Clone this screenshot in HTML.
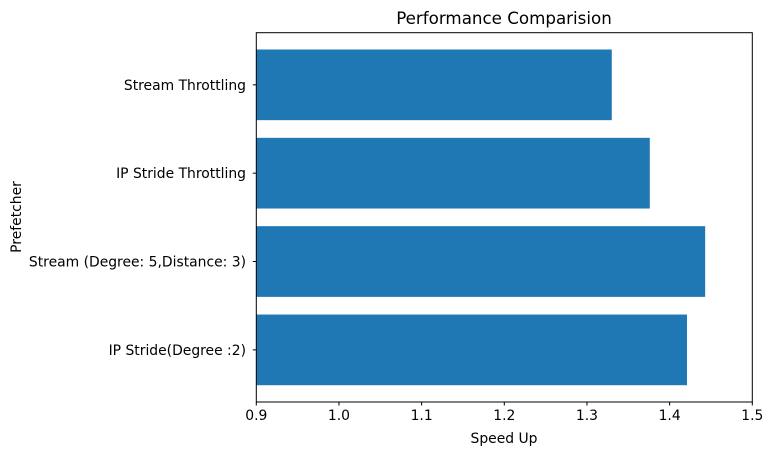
<!DOCTYPE html>
<html><head><meta charset="utf-8"><style>
body{margin:0;background:#fff;}
svg{display:block;font-family:"DejaVu Sans","Liberation Sans",sans-serif;}
</style></head><body>
<svg id="chart" width="773" height="455" viewBox="0 0 773 455">
<text x="504" y="24" text-anchor="middle" font-size="16.7">Performance Comparision</text>
<g id="bars"></g>
<rect x="256.3" y="32.7" width="496" height="369.3" fill="none" stroke="#000" stroke-width="1"/>
<g id="xticks"></g>
<g id="yticks"></g>
<text x="504" y="443" text-anchor="middle" font-size="13.9">Speed Up</text>
<text transform="translate(21,217) rotate(-90)" text-anchor="middle" font-size="13.9">Prefetcher</text>
</svg>
<script>
const categories = ["IP Stride(Degree :2)", "Stream (Degree: 5,Distance: 3)", "IP Stride Throttling", "Stream Throttling"];
const speedups = [1.421, 1.443, 1.376, 1.330];
const xTickValues = [0.9, 1.0, 1.1, 1.2, 1.3, 1.4, 1.5];
const xTickLabels = ["0.9", "1.0", "1.1", "1.2", "1.3", "1.4", "1.5"];

const NS = "http://www.w3.org/2000/svg";
const xMin = 0.9, xMax = 1.5, left = 256.3, right = 752.3;
function xScale(v){ return left + (v - xMin) / (xMax - xMin) * (right - left); }
const top0 = 32.7, bottom0 = 402, yMin = -0.59, yMax = 3.59;
function yScale(i){ return bottom0 - (i - yMin) / (yMax - yMin) * (bottom0 - top0); }
const bandH = (bottom0 - top0) / (yMax - yMin);

const barsG = document.getElementById('bars');
categories.forEach((c, i) => {
  const r = document.createElementNS(NS, 'rect');
  const x0 = xScale(xMin), x1 = xScale(speedups[i]);
  r.setAttribute('x', x0);
  r.setAttribute('width', Math.max(0, x1 - x0));
  r.setAttribute('y', yScale(i) - 0.4 * bandH);
  r.setAttribute('height', 0.8 * bandH);
  r.setAttribute('fill', '#1f77b4');
  
  
  barsG.appendChild(r);
});

const xt = document.getElementById('xticks');
xTickValues.forEach((v, i) => {
  const x = xScale(v);
  const l = document.createElementNS(NS, 'line');
  l.setAttribute('x1', x); l.setAttribute('x2', x);
  l.setAttribute('y1', 402); l.setAttribute('y2', 405.5);
  l.setAttribute('stroke', '#000');
  
  
  xt.appendChild(l);
  const t = document.createElementNS(NS, 'text');
  t.setAttribute('x', x); t.setAttribute('y', 420);
  t.setAttribute('text-anchor', 'middle'); t.setAttribute('font-size', '13.9');
  t.textContent = xTickLabels[i];
  
  
  xt.appendChild(t);
});

const yt = document.getElementById('yticks');
categories.forEach((c, i) => {
  const y = yScale(i);
  const l = document.createElementNS(NS, 'line');
  l.setAttribute('x1', 252.8); l.setAttribute('x2', 256.3);
  l.setAttribute('y1', y); l.setAttribute('y2', y);
  l.setAttribute('stroke', '#000');
  
  
  yt.appendChild(l);
  const t = document.createElementNS(NS, 'text');
  t.setAttribute('x', 246); t.setAttribute('y', y + 5);
  t.setAttribute('text-anchor', 'end'); t.setAttribute('font-size', '13.9');
  t.textContent = c;
  
  
  yt.appendChild(t);
});
</script>
</body></html>
